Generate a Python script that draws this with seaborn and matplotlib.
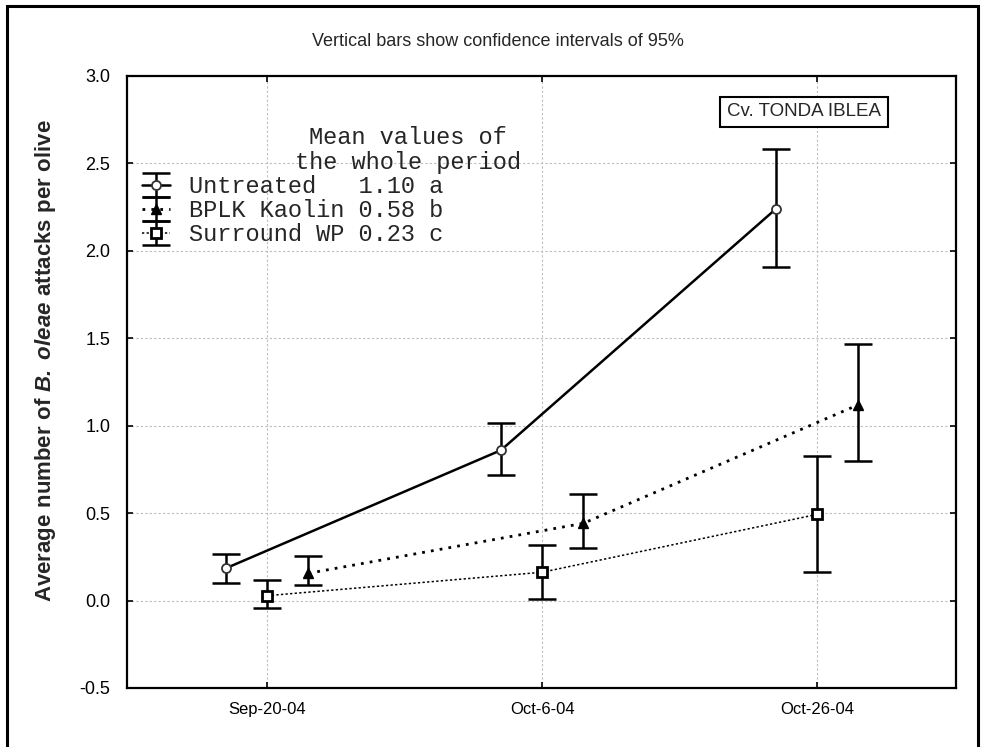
import numpy as np
import pandas as pd
import matplotlib
matplotlib.use("Agg")
import matplotlib.pyplot as plt
import seaborn as sns
from matplotlib.patches import Rectangle
from matplotlib.legend_handler import HandlerTuple

# ---------------- data ----------------
dates = ["Sep-20-04", "Oct-6-04", "Oct-26-04"]
series = ["Untreated", "BPLK Kaolin", "Surround WP"]
period_means = ["1.10 a", "0.58 b", "0.23 c"]

untreated_mean = [0.185, 0.86, 2.24]
untreated_low = [0.10, 0.718, 1.91]
untreated_high = [0.265, 1.017, 2.58]

bplk_mean = [0.156, 0.442, 1.12]
bplk_low = [0.089, 0.30, 0.80]
bplk_high = [0.255, 0.61, 1.47]

surround_mean = [0.028, 0.162, 0.493]
surround_low = [-0.044, 0.011, 0.165]
surround_high = [0.12, 0.32, 0.828]

y_ticks = [-0.5, 0.0, 0.5, 1.0, 1.5, 2.0, 2.5, 3.0]

# ---------------- style ----------------
sns.set_theme(style="white")
plt.rcParams["font.family"] = ["Liberation Sans", "DejaVu Sans"]
plt.rcParams["mathtext.fontset"] = "custom"
plt.rcParams["mathtext.rm"] = "Liberation Sans:bold"
plt.rcParams["mathtext.it"] = "Liberation Sans:italic:bold"
plt.rcParams["mathtext.bf"] = "Liberation Sans:bold"
try:
    plt.rcParams["mathtext.bfit"] = "Liberation Sans:italic:bold"
    ylab = r"$\mathbf{Average\ number\ of\ }\mathbfit{B.\ oleae}\mathbf{\ attacks\ per\ olive}$"
except KeyError:
    ylab = r"$\mathbf{Average\ number\ of\ }\mathit{B.\ oleae}\mathbf{\ attacks\ per\ olive}$"

fig = plt.figure(figsize=(9.81, 7.47), dpi=100)
ax = fig.add_axes([127 / 981, 59 / 747, 829 / 981, 612 / 747])

offsets = {"Untreated": -0.15, "BPLK Kaolin": 0.15, "Surround WP": 0.0}
means = {"Untreated": untreated_mean, "BPLK Kaolin": bplk_mean, "Surround WP": surround_mean}
lows = {"Untreated": untreated_low, "BPLK Kaolin": bplk_low, "Surround WP": surround_low}
highs = {"Untreated": untreated_high, "BPLK Kaolin": bplk_high, "Surround WP": surround_high}

styles = {
    "Untreated": dict(lw=1.8, linestyle="-", marker="o", mfc="white", mec="#333333", mew=1.3, ms=6.5),
    "BPLK Kaolin": dict(lw=2.0, linestyle=(0, (1, 2.2)), marker="^", mfc="black", mec="black", mew=1.0, ms=7.5),
    "Surround WP": dict(lw=1.1, linestyle=(0, (1.5, 1.5)), marker="s", mfc="white", mec="black", mew=2.0, ms=7.5),
}

rows = []
for s in series:
    for i, d in enumerate(dates):
        rows.append({"series": s, "x": i + offsets[s], "y": means[s][i],
                     "low": lows[s][i], "high": highs[s][i]})
df = pd.DataFrame(rows)

handles = []
for s in series:
    sub = df[df["series"] == s]
    n_before = len(ax.lines)
    sns.lineplot(data=sub, x="x", y="y", color="black", errorbar=None, ax=ax,
                 zorder=4, **styles[s])
    line = ax.lines[n_before]
    err = ax.errorbar(sub["x"], sub["y"],
                      yerr=[sub["y"] - sub["low"], sub["high"] - sub["y"]],
                      fmt="none", ecolor="black", elinewidth=1.8,
                      capsize=10, capthick=1.8, zorder=3)
    handles.append((err, line))

labels = []
for s, m in zip(series, period_means):
    labels.append(f"{s:<12}{m}")

# ---------------- axes ----------------
ax.set_xlim(-0.51, 2.505)
ax.set_ylim(-0.5, 3.0)
ax.set_xticks(range(len(dates)))
ax.set_xticklabels(dates, fontsize=12)
ax.set_yticks(y_ticks)
ax.set_yticklabels([f"{v:.1f}" for v in y_ticks], fontsize=13)
ax.set_xlabel("")
ax.set_ylabel(ylab, fontsize=16)
ax.yaxis.set_label_coords(-0.083, 0.535)
ax.grid(True, color="#bdbdbd", linestyle=(0, (2, 2)), linewidth=0.8)
ax.tick_params(axis="both", direction="in", length=4, width=1.2, colors="black",
               top=True, right=True, bottom=True, left=True)
ax.tick_params(axis="y", pad=12)
ax.tick_params(axis="x", pad=10)
for sp in ax.spines.values():
    sp.set_visible(True)
    sp.set_color("black")
    sp.set_linewidth(1.6)

leg = ax.legend(handles, labels, loc="upper left",
                bbox_to_anchor=(15 / 829, (688 - 175) / 612),
                frameon=False, borderpad=0, borderaxespad=0,
                handlelength=1.2, handletextpad=0.8, labelspacing=0.05,
                prop={"family": "Liberation Mono", "size": 17},
                handler_map={tuple: HandlerTuple(ndivide=1)})

mono = {"family": "Liberation Mono", "size": 17}
ax.text((408 - 127) / 829, (688 - 138) / 612, "Mean values of", transform=ax.transAxes,
        ha="center", va="center", fontdict=mono)
ax.text((408 - 127) / 829, (688 - 162) / 612, "the whole period", transform=ax.transAxes,
        ha="center", va="center", fontdict=mono)

ax.text((804 - 127) / 829, (688 - 112) / 612, "Cv. TONDA IBLEA", transform=ax.transAxes,
        ha="center", va="center", fontsize=13.5,
        bbox=dict(boxstyle="square,pad=0.35", fc="white", ec="black", lw=1.5))

fig.text(498 / 981, 1 - 42 / 747, "Vertical bars show confidence intervals of 95%",
         ha="center", va="center", fontsize=13)

fig.patches.append(Rectangle((7 / 981, -0.05), 971 / 981, 1.05 - 6 / 747,
                             transform=fig.transFigure, fill=False, ec="black", lw=2.2))

fig.savefig("out.png", dpi=100)
